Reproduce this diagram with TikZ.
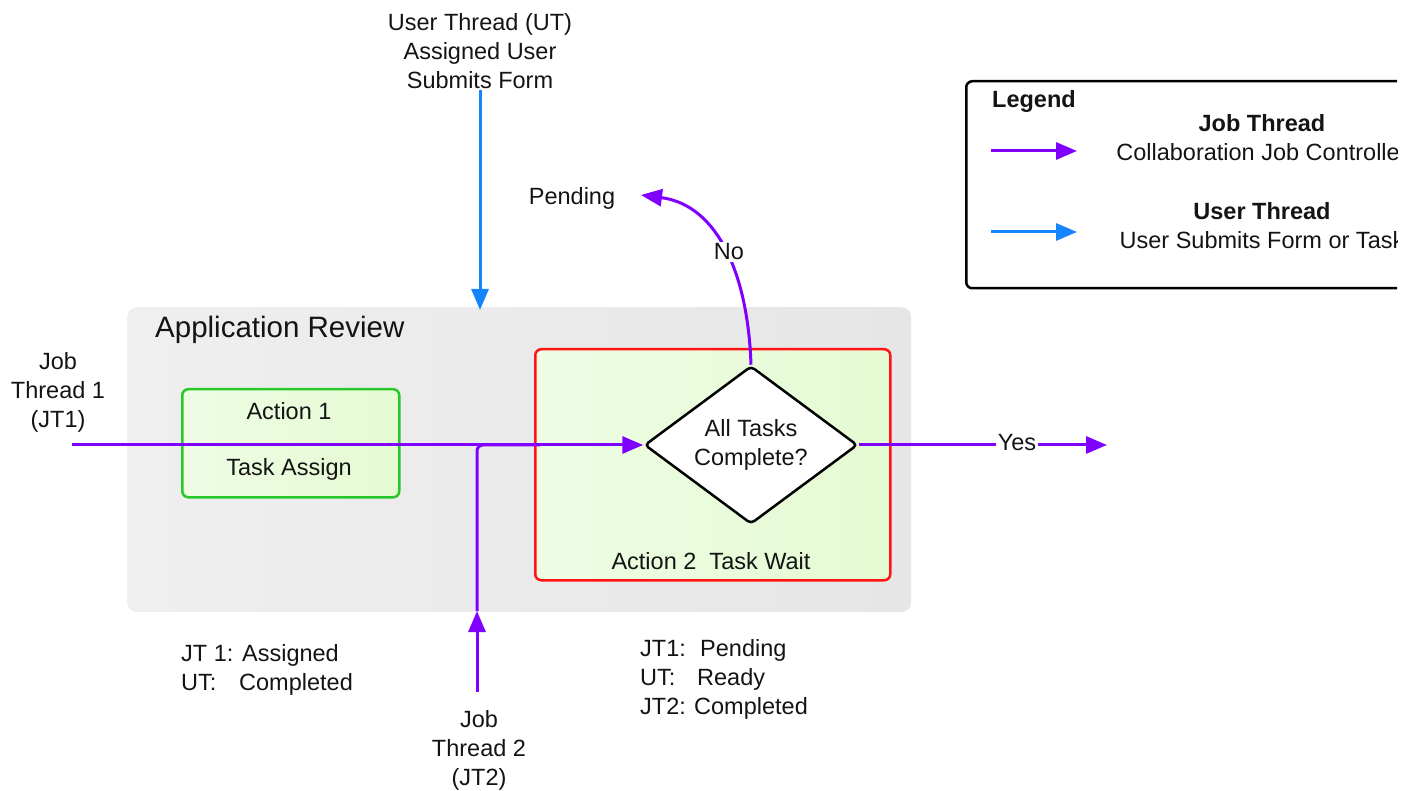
\documentclass[tikz,border=0pt]{standalone}
\usepackage{fontspec}
\setmainfont{Liberation Sans}
\usetikzlibrary{arrows.meta,shapes.geometric}
\definecolor{jobc}{RGB}{128,0,255}
\definecolor{userc}{RGB}{20,132,255}
\definecolor{grayA}{RGB}{239,239,239}
\definecolor{grayB}{RGB}{230,230,230}
\definecolor{greenA}{RGB}{238,252,228}
\definecolor{greenB}{RGB}{229,251,211}
\definecolor{boxgreen}{RGB}{40,200,40}
\definecolor{boxred}{RGB}{255,20,20}
\definecolor{txt}{RGB}{20,20,20}
\begin{document}
\begin{tikzpicture}[x=1pt,y=-1pt,
  every node/.style={font=\fontsize{23.5}{29}\selectfont, text=txt},
  tip/.style={-{Triangle[length=21pt,width=17pt]}},
  jobline/.style={draw=jobc, line width=3pt},
  userline/.style={draw=userc, line width=3pt},
  actbox/.style={rounded corners=6pt, line width=2.5pt, left color=greenA, right color=greenB, anchor=north west, inner sep=0pt},
  txtblock/.style={align=center, inner sep=0pt},
  statblock/.style={align=left, anchor=north west, inner sep=0pt},
  lab/.style={fill=white, inner sep=2pt}
]
\useasboundingbox (0,0) rectangle (1414,791);
\begin{scope}
\clip (0,0) rectangle (1397,791);

% container
\node[anchor=north west, rounded corners=10pt, left color=grayA, right color=grayB, minimum width=784pt, minimum height=305pt, inner sep=0pt] (app) at (127,307) {};
\node[anchor=west, font=\fontsize{29.5}{34}\selectfont, inner sep=0pt] (apptitle) at (155,330) {Application Review};

% action boxes
\node[actbox, draw=boxgreen, minimum width=217pt, minimum height=108pt] (act1) at (181,388) {};
\node[txtblock] (act1a) at (289,411) {Action 1};
\node[txtblock] (act1b) at (289,469) {Task Assign};

\node[actbox, draw=boxred, minimum width=355pt, minimum height=231pt] (act2) at (534,348) {};
\node[txtblock] (act2t) at (711,561) {Action 2\ \ Task Wait};

% diamond
\node[diamond, draw=black, fill=white, line width=2.5pt, rounded corners=4pt, aspect=1.35, minimum width=213pt, minimum height=158pt, inner sep=0pt, align=center] (dia) at (751,445) {All Tasks\\Complete?};

% coordinates
\coordinate (jt1s) at (72,445);
\coordinate (jt2s) at (477,692);
\coordinate (jt2m) at (477,611);
\coordinate (jt2e) at (540,445);
\coordinate (uts) at (480,90);
\coordinate (ute) at (480,310);
\coordinate (pend) at (641,195);
\coordinate (yese) at (1107,445);

% job thread 1
\draw[jobline, tip] (jt1s) -- (dia.west);
% job thread 2
\draw[jobline, tip] (jt2s) -- (jt2m);
\draw[jobline, rounded corners=6pt] (jt2m) |- (jt2e);
% user thread
\draw[userline, tip] (uts) -- (ute);
% No branch
\draw[jobline, tip] (dia.north) .. controls (748,275) and (718,205) .. (pend);
\node[lab] (nolab) at (729,252) {No};
% Yes branch
\draw[jobline, tip] (dia.east) -- (yese);
\node[lab] (yeslab) at (1017,443) {Yes};

% texts
\node[txtblock] (pending) at (572,198) {Pending};
\node[txtblock] (utlabel) at (480,51) {User Thread (UT)\\Assigned User\\Submits Form};
\node[txtblock] (jt1label) at (58,392) {Job\\Thread 1\\(JT1)};
\node[txtblock] (jt2label) at (479,750) {Job\\Thread 2\\(JT2)};
\node[statblock] (stat1) at (181,644) {JT 1: Assigned\\\makebox[58pt][l]{UT:}Completed};
\node[statblock] (stat2) at (640,639) {\makebox[60pt][l]{JT1:}Pending\\\makebox[57pt][l]{UT:}Ready\\\makebox[54pt][l]{JT2:}Completed};

% legend
\node[anchor=north west, draw=black, line width=2.5pt, rounded corners=6pt, minimum width=520pt, minimum height=207pt, inner sep=0pt] (legend) at (965,80) {};
\node[anchor=west, inner sep=0pt, font=\fontsize{23.5}{29}\selectfont\bfseries] (legtitle) at (992,101) {Legend};
\coordinate (lj1) at (991,151);
\coordinate (lj2) at (1077,151);
\coordinate (lu1) at (991,232);
\coordinate (lu2) at (1077,232);
\draw[jobline, tip] (lj1) -- (lj2);
\draw[userline, tip] (lu1) -- (lu2);
\node[txtblock] (legjob) at (1262,138) {\textbf{Job Thread}\\Collaboration Job Controller};
\node[txtblock] (leguser) at (1262,226) {\textbf{User Thread}\\User Submits Form or Task};
\end{scope}
\end{tikzpicture}
\end{document}
